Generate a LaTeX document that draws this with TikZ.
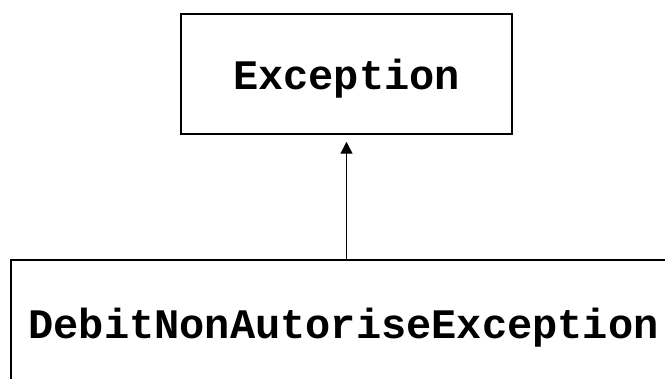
\documentclass[tikz,border=0pt]{standalone}
\usepackage{fontspec}
\setmonofont{Liberation Mono}
\usetikzlibrary{arrows.meta}
\begin{document}
\begin{tikzpicture}[x=1pt,y=1pt,
  classbox/.style={draw=black,line width=1.5pt,fill=white,inner sep=0pt,text depth=0pt,
    font=\ttfamily\bfseries\fontsize{42}{48}\selectfont},
  inherit/.style={line width=1.2pt,-{Triangle[length=12pt,width=12pt]},shorten >=7pt}]
\useasboundingbox (0,0) rectangle (665,379);
\clip (0,0) rectangle (665,379);
\node[classbox,minimum width=331pt,minimum height=120pt] (exc) at (346.5,305) {Exception};
\node[classbox,minimum width=665pt,minimum height=126pt] (debit) at (343.5,56) {DebitNonAutoriseException};
\draw[inherit] (exc.south |- debit.north) -- (exc.south);
\end{tikzpicture}
\end{document}
